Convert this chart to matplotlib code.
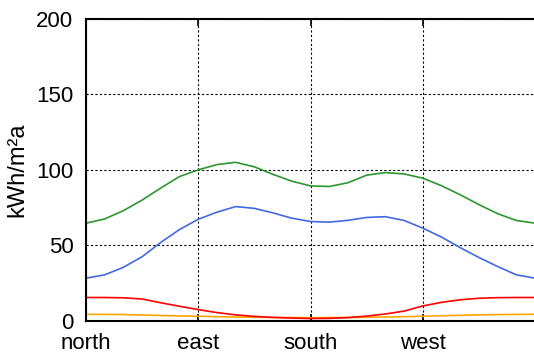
import numpy as np
from matplotlib import pyplot as plt

plt.rcParams['font.family'] = ['Liberation Sans', 'DejaVu Sans']

# azimuth of facade in degrees (0 = north)
azimuth = list(range(0, 361, 15))

green = [64.7, 67.5, 73.0, 80.0, 88.0, 95.6, 100.0, 103.5, 105.0, 102.0, 97.0, 92.5, 89.4,
         89.0, 91.5, 96.5, 98.2, 97.3, 94.5, 89.5, 83.5, 77.0, 71.0, 66.5, 64.7]
blue = [28.3, 30.5, 35.5, 42.5, 52.0, 60.5, 67.3, 72.0, 75.7, 74.5, 71.5, 68.0, 65.8,
        65.4, 66.6, 68.5, 69.0, 66.5, 61.4, 55.5, 48.5, 42.0, 36.0, 30.5, 28.3]
red = [15.5, 15.5, 15.3, 14.5, 12.0, 9.7, 7.5, 5.5, 4.0, 3.0, 2.3, 1.9, 1.6,
       1.7, 2.2, 3.2, 4.6, 6.5, 9.9, 12.3, 14.0, 15.0, 15.4, 15.5, 15.5]
orange = [4.4, 4.3, 4.2, 3.9, 3.6, 3.3, 3.1, 2.8, 2.6, 2.4, 2.3, 2.2, 2.1,
          2.2, 2.3, 2.4, 2.6, 2.8, 3.1, 3.4, 3.7, 4.0, 4.2, 4.3, 4.4]

tick_pos = [0, 90, 180, 270]
tick_lab = ['north', 'east', 'south', 'west']

fig = plt.figure(figsize=(5.34, 3.55), dpi=100)
ax = fig.add_axes([0.161, 0.096, 0.841, 0.851])

ax.plot(azimuth, green, color='#2e962e', lw=1.2)
ax.plot(azimuth, blue, color='#4169e1', lw=1.2)
ax.plot(azimuth, orange, color='#ffa500', lw=1.2)
ax.plot(azimuth, red, color='#ff0000', lw=1.2)

ax.set_xlim(0, 360)
ax.set_ylim(0, 200)
ax.set_xticks(tick_pos)
ax.set_xticklabels(tick_lab)
ax.set_yticks([0, 50, 100, 150, 200])

ax.grid(True, color='black', linestyle=(0, (2, 2)), linewidth=0.8)
ax.tick_params(direction='in', length=5, width=1.2, labelsize=16, top=True)
ax.tick_params(axis='x', pad=9)
ax.tick_params(axis='y', length=0, pad=9)
for s in ['left', 'top', 'bottom']:
    ax.spines[s].set_linewidth(1.5)
ax.spines['right'].set_visible(False)

ax.set_ylabel('kWh/m²a', fontsize=17, labelpad=6)

fig.savefig('out.png', dpi=100)
